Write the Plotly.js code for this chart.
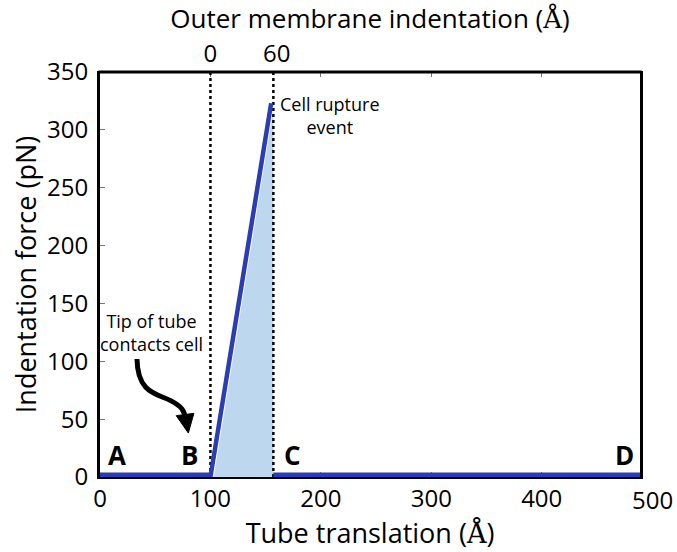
<!DOCTYPE html>
<html>
<head>
<meta charset="utf-8">
<script src="https://cdn.plot.ly/plotly-3.0.1.min.js"></script>
<style>html,body{margin:0;padding:0;background:#fff;}</style>
</head>
<body>
<div id="chart" style="width:677px;height:552px;"></div>
<script>
// Data
const xRange = [0, 489];
const yRange = [0, 350];
const approachX = [0, 100];
const approachY = [0, 0];
const indentX = [100, 155];
const indentY = [0, 323];
const afterX = [157, 489];
const afterY = [0, 0];
const shadeX = [103, 157, 157];
const shadeY = [0, 318, 0];
const contactX = 100;
const ruptureX = 157;
const xTicks = [0, 100, 200, 300, 400, 500];
const yTicks = [0, 50, 100, 150, 200, 250, 300, 350];
const topOffset = 100;
const topTicks = [0, 60];
const pointLabels = ['A', 'B', 'C', 'D'];
const pointLabelX = [15, 81, 174, 475];
const pointLabelY = [19, 19, 19, 19];

const font = '"Open Sans", sans-serif';
const blue = '#2B3DB3';
const aring = '<span style="font-family:DejaVu Serif">Å</span>';

const traces = [
  {x: shadeX, y: shadeY, type: 'scatter', mode: 'lines', fill: 'toself',
   fillcolor: '#BDD7EE', line: {width: 0}, hoverinfo: 'skip', showlegend: false},
  {x: [contactX, contactX], y: yRange, mode: 'lines', line: {color: '#000', width: 2.5, dash: 'dot'}, showlegend: false},
  {x: [ruptureX, ruptureX], y: yRange, mode: 'lines', line: {color: '#000', width: 2.5, dash: 'dot'}, showlegend: false},
  {x: approachX, y: approachY, mode: 'lines', line: {color: blue, width: 9}, showlegend: false},
  {x: indentX, y: indentY, mode: 'lines', line: {color: blue, width: 4.5}, showlegend: false},
  {x: afterX, y: afterY, mode: 'lines', line: {color: blue, width: 9}, showlegend: false},
  {x: [], y: [], xaxis: 'x2', yaxis: 'y', showlegend: false}
];

const annotations = pointLabels.map((t, i) => ({
  x: pointLabelX[i], y: pointLabelY[i], xref: 'x', yref: 'y', text: '<b>' + t + '</b>',
  showarrow: false, font: {family: font, size: 26, color: '#000'}
}));
annotations.push({
  x: 47, y: 125, xref: 'x', yref: 'y',
  text: 'Tip of tube<br>contacts cell', showarrow: false, align: 'center',
  font: {family: font, size: 18, color: '#000'}
});
annotations.push({
  x: 208, y: 312, xref: 'x', yref: 'y',
  text: 'Cell rupture<br>event', showarrow: false, align: 'center',
  font: {family: font, size: 18, color: '#000'}
});
// tick label 500 (beyond plotted range)
annotations.push({
  x: xTicks[5] / xRange[1], y: 0, xref: 'paper', yref: 'paper', xanchor: 'center', yanchor: 'top', yshift: -4,
  text: String(xTicks[5]), showarrow: false, font: {family: font, size: 24, color: '#000'}
});

const layout = {
  width: 677, height: 552,
  margin: {l: 100, r: 37, t: 72, b: 75},
  paper_bgcolor: '#fff', plot_bgcolor: '#fff',
  font: {family: font, size: 24, color: '#000'},
  xaxis: {
    range: xRange, tickvals: xTicks.slice(0, 5), ticktext: xTicks.slice(0, 5).map(String),
    showgrid: false, zeroline: false, showline: true, linecolor: '#000', linewidth: 1.5,
    mirror: 'ticks', ticks: 'inside', ticklen: 5, tickwidth: 1, tickcolor: '#777',
    layer: 'below traces',
    tickfont: {family: font, size: 24}, ticklabelstandoff: 0,
    title: {text: 'Tube translation (' + aring + ')', font: {family: font, size: 27}, standoff: 2}
  },
  xaxis2: {
    overlaying: 'x', side: 'top', anchor: 'y',
    range: [xRange[0] - topOffset, xRange[1] - topOffset], tickvals: topTicks,
    showgrid: false, zeroline: false, showline: false, ticks: '',
    tickfont: {family: font, size: 24}, ticklabelstandoff: 4,
    title: {text: 'Outer membrane indentation (' + aring + ')', font: {family: font, size: 26}, standoff: 4}
  },
  yaxis: {
    range: yRange, tickvals: yTicks,
    showgrid: false, zeroline: false, showline: true, linecolor: '#000', linewidth: 3,
    mirror: true, ticks: 'inside', ticklen: 5, tickwidth: 1, tickcolor: '#777',
    layer: 'below traces',
    tickfont: {family: font, size: 24}, ticklabelstandoff: 4,
    title: {text: 'Indentation force (pN)', font: {family: font, size: 27}, standoff: 3}
  },
  shapes: [
    {type: 'line', xref: 'paper', yref: 'paper', x0: -0.0028, x1: 1.0028, y0: 1, y1: 1,
     line: {color: '#000', width: 3}},
    {type: 'path', xref: 'x', yref: 'y',
     path: 'M 33.5,102 C 34,72 52,72 64,66 C 74,61 77,57 77,50',
     line: {color: '#000', width: 5}},
    {type: 'path', xref: 'x', yref: 'y',
     path: 'M 69,53 L 85,55 L 80,38 Z',
     fillcolor: '#000', line: {color: '#000', width: 1}}
  ],
  annotations: annotations,
  showlegend: false
};

Plotly.newPlot('chart', traces, layout, {displayModeBar: false, staticPlot: true});
</script>
</body>
</html>
